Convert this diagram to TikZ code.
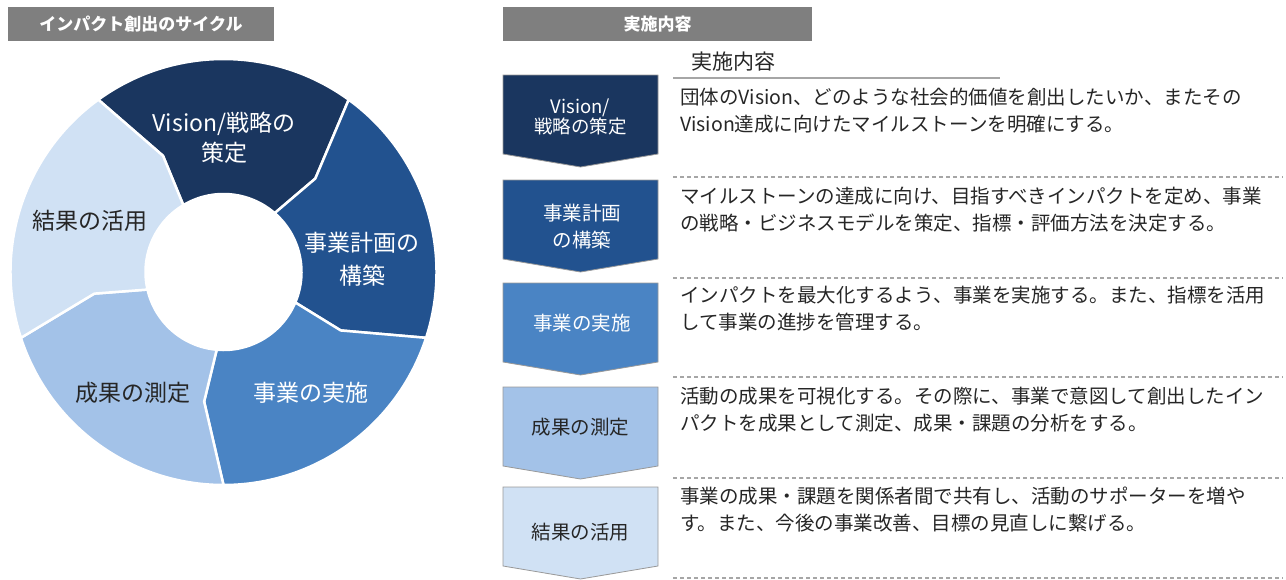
\documentclass[tikz,border=0pt]{standalone}
\usepackage{fontspec}
\setmainfont{Noto Sans CJK JP}
\definecolor{cA}{HTML}{1A365F}
\definecolor{cB}{HTML}{22528F}
\definecolor{cC}{HTML}{4A84C4}
\definecolor{cD}{HTML}{A3C2E8}
\definecolor{cE}{HTML}{D0E1F4}
\definecolor{hdrgray}{HTML}{7F7F7F}
\definecolor{txt}{HTML}{262626}
\definecolor{rule}{HTML}{A6A6A6}
\begin{document}
\begin{tikzpicture}[x=1pt,y=-1pt,
  hdr/.style={fill=hdrgray, text=white, inner sep=0pt, font=\fontsize{17}{19}\selectfont\bfseries},
  seg/.style={draw=white, line width=2.5pt, line join=round},
  dl/.style={align=center, inner sep=0pt, font=\fontsize{23}{31}\selectfont},
  chev/.style={draw=black!40, line width=0.8pt, line join=miter},
  cl/.style={align=center, inner sep=0pt, font=\fontsize{19.5}{27}\selectfont},
  desc/.style={anchor=west, align=left, inner sep=0pt, text=txt, font=\fontsize{19.5}{27}\selectfont},
  sep/.style={draw=rule, line width=1.2pt, dash pattern=on 4pt off 3pt}
]
\useasboundingbox (0,0) rectangle (1286,579);

% headers
\node[hdr, minimum width=266pt, minimum height=34pt] (h1) at (141,24) {インパクト創出のサイクル};
\node[hdr, minimum width=309pt, minimum height=34pt] (h2) at (657.5,24) {実施内容};

% donut
\begin{scope}[shift={(223.5,272)}, y=1pt]
\foreach \s/\col [evaluate=\s as \e using \s-72] in {126/cA, 54/cB, -18/cC, -90/cD, -162/cE} {
  \filldraw[seg, fill=\col]
    (\s:213) arc[start angle=\s, end angle=\e, radius=213]
    -- ({\e-8.5}:131) -- ({\e-5}:78)
    arc[start angle={\e-5}, end angle={\s-5}, radius=78]
    -- ({\s-8.5}:131) -- cycle;
}
\end{scope}

\node[dl, text=white, font=\fontsize{23}{30}\selectfont] (l1) at (224,138) {Vision/戦略の\\策定};
\node[dl, text=white, font=\fontsize{23}{33}\selectfont] (l2) at (362,259.5) {事業計画の\\構築};
\node[dl, text=white] (l3) at (311,393) {事業の実施};
\node[dl, text=txt] (l4) at (133,393) {成果の測定};
\node[dl, text=txt] (l5) at (90,221) {結果の活用};

% chevrons
\foreach \t/\col in {75/cA, 180/cB, 283/cC, 387/cD, 487/cE} {
  \filldraw[chev, fill=\col] (503,\t) -- (658,\t) -- (658,\t+79) -- (580.5,\t+92) -- (503,\t+79) -- cycle;
}
\node[cl, text=white, font=\fontsize{18.5}{20}\selectfont] (c1) at (580.5,117) {Vision/\\戦略の策定};
\node[cl, text=white] (c2) at (582,226.5) {事業計画\\の構築};
\node[cl, text=white] (c3) at (582,323) {事業の実施};
\node[cl, text=txt] (c4) at (580.5,427) {成果の測定};
\node[cl, text=txt] (c5) at (580.5,532) {結果の活用};

% sub heading
\node[inner sep=0pt, text=txt, font=\fontsize{21}{24}\selectfont] (sh) at (733.5,62) {実施内容};
\coordinate (ulA) at (673,78);
\coordinate (ulB) at (1000,78);
\draw[draw=rule, line width=1.6pt] (ulA) -- (ulB);

% separators
\foreach \y in {177,278,377,478,578} {
  \draw[sep] (673,\y) -- (1283,\y);
}

% descriptions
\node[desc] (d1) at (680,110.5) {団体のVision、どのような社会的価値を創出したいか、またその\\Vision達成に向けたマイルストーンを明確にする。};
\node[desc] (d2) at (680,210) {マイルストーンの達成に向け、目指すべきインパクトを定め、事業\\の戦略・ビジネスモデルを策定、指標・評価方法を決定する。};
\node[desc] (d3) at (680,308.5) {インパクトを最大化するよう、事業を実施する。また、指標を活用\\して事業の進捗を管理する。};
\node[desc] (d4) at (680,409.5) {活動の成果を可視化する。その際に、事業で意図して創出したイン\\パクトを成果として測定、成果・課題の分析をする。};
\node[desc] (d5) at (680,509.5) {事業の成果・課題を関係者間で共有し、活動のサポーターを増や\\す。また、今後の事業改善、目標の見直しに繋げる。};
\end{tikzpicture}
\end{document}
